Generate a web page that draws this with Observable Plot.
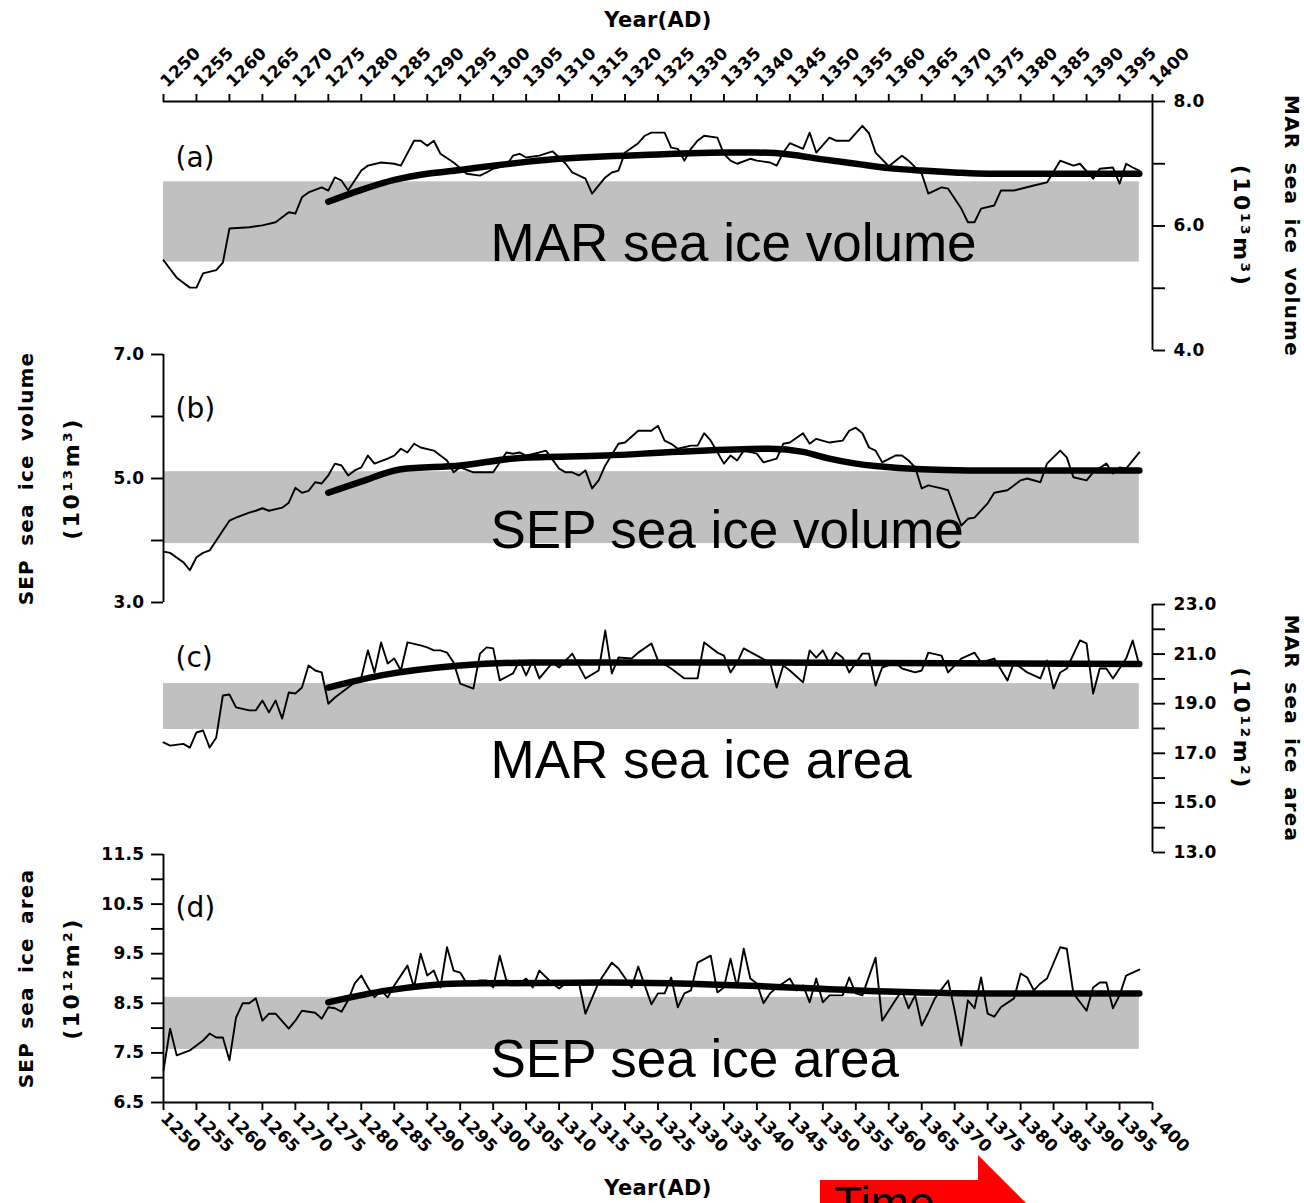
<!DOCTYPE html>
<html><head><meta charset="utf-8">
<script src="https://cdn.jsdelivr.net/npm/d3@7"></script>
<script src="https://cdn.jsdelivr.net/npm/@observablehq/plot@0.6"></script>
<style>
html,body{margin:0;padding:0;background:#fff;overflow:hidden;}
#wrap{position:relative;width:1304px;height:1203px;overflow:hidden;background:#fff;}
.panel{position:absolute;left:0;}
#arrow{position:absolute;left:820px;top:1155px;width:215px;height:110px;background:#ff0000;
  clip-path:polygon(0 25px,158px 25px,158px 0,213px 55px,158px 110px,158px 85px,0 85px);}
#arrowText{position:absolute;left:834px;top:1176px;font:46px 'Liberation Sans',Arial,sans-serif;color:#000;}
</style></head><body><div id="wrap"><div id="arrow"></div><div id="arrowText">Time</div></div>
<script>
// ---------------- data ----------------
const tickYears = d3.range(1250, 1401, 5);
const bandStart = 1250, bandEnd = 1398;

// (a) MAR sea ice volume (10^13 m^3)
const yearsA = [1250,1252,1254,1255,1256,1258,1259,1260,1263,1265,1267,1269,1270,1271,1272,1274,1275,1276,1277,1278,1280,1281,1283,1285,1286,1288,1289,1290,1291,1292,1294,1296,1298,1299,1300,1302,1303,1304,1305,1307,1309,1311,1312,1314,1315,1317,1318,1319,1320,1322,1323,1324,1326,1327,1328,1329,1330,1331,1332,1334,1335,1336,1337,1339,1340,1342,1343,1344,1345,1347,1348,1349,1351,1352,1354,1356,1357,1358,1360,1362,1363,1365,1366,1368,1369,1371,1372,1373,1374,1376,1377,1379,1382,1384,1386,1388,1389,1391,1392,1394,1395,1396,1397,1398];
const marVolume = [5.45,5.17,5.01,5.01,5.24,5.29,5.41,5.96,5.98,6.01,6.06,6.22,6.2,6.46,6.54,6.62,6.57,6.78,6.73,6.57,6.89,6.97,7.02,7.0,6.97,7.37,7.37,7.29,7.37,7.16,7.02,6.84,6.81,6.86,6.92,6.97,7.13,7.16,7.1,7.13,7.2,7.0,6.86,6.76,6.52,6.78,6.86,6.89,7.18,7.33,7.45,7.5,7.5,7.26,7.24,7.05,7.24,7.37,7.45,7.42,7.16,7.05,7.0,7.08,7.05,7.02,6.97,7.18,7.33,7.24,7.5,7.18,7.42,7.37,7.37,7.61,7.49,7.18,6.96,7.13,7.05,6.84,6.52,6.62,6.6,6.28,6.06,6.06,6.28,6.33,6.57,6.57,6.65,6.7,7.05,6.97,7.0,6.76,6.92,6.94,6.68,7.0,6.94,6.89];
const trendYearsA = [1275,1280,1285,1290,1295,1300,1305,1310,1315,1320,1325,1330,1335,1340,1345,1350,1355,1360,1365,1370,1375,1385,1398];
const marVolumeTrend = [6.39,6.58,6.74,6.84,6.9,6.97,7.03,7.08,7.11,7.13,7.15,7.17,7.18,7.18,7.15,7.07,7.0,6.93,6.89,6.86,6.84,6.84,6.84];
const bandA = [5.42, 6.71];

// (b) SEP sea ice volume (10^13 m^3)
const yearsB = [1250,1251,1253,1254,1255,1256,1257,1259,1260,1261,1263,1264,1265,1266,1268,1269,1270,1271,1272,1273,1274,1275,1276,1277,1278,1279,1280,1281,1282,1284,1285,1286,1287,1288,1289,1291,1293,1294,1295,1297,1299,1300,1302,1303,1304,1305,1307,1308,1310,1311,1312,1313,1314,1315,1316,1317,1319,1320,1322,1324,1325,1326,1327,1328,1330,1331,1332,1333,1335,1336,1337,1338,1340,1341,1343,1344,1345,1347,1348,1349,1351,1353,1354,1355,1356,1357,1358,1359,1361,1362,1363,1364,1365,1366,1368,1369,1371,1372,1373,1375,1376,1378,1380,1381,1383,1384,1386,1387,1388,1390,1391,1393,1394,1395,1396,1398];
const sepVolume = [3.82,3.8,3.65,3.52,3.73,3.8,3.84,4.16,4.32,4.37,4.45,4.48,4.52,4.48,4.53,4.61,4.85,4.77,4.8,4.94,4.92,5.05,5.24,5.21,5.05,5.13,5.18,5.37,5.24,5.32,5.37,5.48,5.42,5.56,5.5,5.45,5.29,5.1,5.18,5.1,5.1,5.1,5.42,5.4,5.42,5.37,5.42,5.45,5.16,5.1,5.1,5.05,5.13,4.84,4.97,5.21,5.56,5.58,5.77,5.77,5.85,5.61,5.56,5.48,5.53,5.53,5.73,5.61,5.24,5.37,5.29,5.45,5.4,5.26,5.32,5.56,5.58,5.73,5.56,5.64,5.58,5.61,5.77,5.82,5.73,5.5,5.45,5.26,5.37,5.37,5.29,5.18,4.84,4.89,4.84,4.81,4.24,4.35,4.37,4.6,4.77,4.81,4.97,5.0,4.94,5.24,5.45,5.34,5.02,4.97,5.1,5.24,5.08,5.18,5.16,5.42];
const trendYearsB = [1275,1280,1286,1295,1304,1317,1328,1342,1347,1351,1358,1372,1398];
const sepVolumeTrend = [4.77,4.95,5.15,5.21,5.33,5.37,5.43,5.48,5.43,5.32,5.2,5.13,5.13];
const bandB = [3.95, 5.11];

// (c) MAR sea ice area (10^12 m^2)
const yearsC = [1250,1251,1253,1254,1255,1256,1257,1258,1259,1260,1261,1263,1264,1265,1266,1267,1268,1269,1270,1271,1272,1273,1274,1275,1276,1277,1278,1280,1281,1282,1283,1284,1285,1286,1287,1289,1290,1291,1292,1293,1294,1295,1297,1298,1299,1300,1301,1303,1304,1305,1306,1307,1309,1310,1312,1314,1316,1317,1318,1319,1321,1322,1324,1325,1327,1328,1329,1331,1332,1334,1335,1336,1337,1338,1340,1342,1343,1344,1345,1347,1348,1349,1350,1351,1352,1353,1354,1356,1357,1358,1359,1361,1362,1364,1365,1366,1368,1369,1371,1373,1374,1376,1378,1379,1381,1383,1384,1385,1386,1387,1389,1390,1391,1392,1393,1394,1396,1397,1398];
const marArea = [17.44,17.31,17.38,17.23,17.84,17.92,17.23,17.64,19.33,19.37,18.85,18.73,18.73,19.13,18.65,19.13,18.4,19.45,19.41,19.65,20.54,20.34,20.26,19.0,19.25,19.45,19.65,20.06,21.15,20.26,21.47,20.62,20.82,20.34,21.47,21.35,21.27,21.15,21.15,21.06,20.66,19.81,19.61,21.02,21.27,21.23,19.94,20.22,20.74,20.14,20.74,20.02,20.66,20.46,21.02,20.02,20.34,21.95,20.22,20.86,20.82,21.06,21.43,20.74,20.42,20.22,20.02,20.02,21.47,21.06,20.94,20.26,20.66,21.23,20.94,20.66,19.65,20.54,20.34,19.86,21.15,20.86,21.15,20.62,21.06,20.86,20.26,21.02,21.02,19.73,20.46,20.66,20.42,20.26,20.34,21.06,20.94,20.26,20.82,21.06,20.66,20.82,19.94,20.66,20.26,20.02,20.74,19.61,20.26,20.42,21.55,21.43,19.41,20.42,20.42,20.02,20.82,21.55,20.54];
const trendYearsC = [1275,1283,1295,1306,1340,1398];
const marAreaTrend = [19.65,20.14,20.54,20.66,20.66,20.6];
const bandC = [17.96, 19.81];

// (d) SEP sea ice area (10^12 m^2)
const yearsD = [1250,1251,1252,1254,1256,1257,1258,1259,1260,1261,1262,1263,1264,1265,1266,1267,1269,1270,1271,1273,1274,1275,1276,1277,1278,1279,1280,1281,1282,1283,1284,1285,1287,1288,1289,1290,1291,1292,1293,1294,1295,1296,1298,1299,1300,1301,1302,1304,1305,1306,1307,1309,1310,1311,1312,1313,1314,1316,1318,1319,1321,1322,1324,1325,1326,1327,1328,1329,1330,1331,1333,1334,1335,1336,1337,1338,1339,1340,1341,1342,1343,1345,1346,1347,1348,1349,1350,1351,1353,1354,1355,1356,1358,1359,1361,1362,1363,1364,1365,1366,1367,1369,1370,1371,1372,1373,1374,1375,1376,1377,1379,1380,1381,1382,1383,1384,1386,1387,1388,1390,1391,1392,1393,1394,1395,1396,1398];
const sepArea = [7.15,7.99,7.45,7.55,7.75,7.89,7.81,7.81,7.35,8.21,8.5,8.5,8.6,8.15,8.29,8.29,7.99,8.15,8.35,8.31,8.19,8.42,8.4,8.33,8.56,8.9,9.06,8.82,8.62,8.76,8.62,8.86,9.26,8.82,9.5,9.06,9.16,8.82,9.63,9.16,9.12,8.9,8.96,8.96,8.82,9.46,8.96,8.9,9.0,8.82,9.16,8.9,8.8,8.9,8.9,8.92,8.29,8.92,9.32,9.2,8.82,9.24,8.48,8.7,8.7,9.02,8.42,8.7,8.76,9.32,9.46,8.72,8.82,9.4,8.82,9.6,9.0,8.9,8.5,8.7,8.82,9.0,8.76,8.86,8.52,9.0,8.52,8.66,8.66,9.02,8.7,8.66,9.42,8.15,8.56,8.76,8.4,8.66,8.05,8.31,8.6,8.96,8.35,7.65,8.56,8.4,9.02,8.29,8.23,8.42,8.6,9.1,9.02,8.76,8.9,9.0,9.63,9.6,8.7,8.35,8.82,8.92,8.92,8.4,8.66,9.06,9.18];
const trendYearsD = [1275,1284,1295,1317,1340,1357,1375,1398];
const sepAreaTrend = [8.52,8.76,8.9,8.92,8.85,8.75,8.7,8.7];
const bandD = [7.57, 8.62];

// ---------------- drawing ----------------
const TICK_FONT = "'DejaVu Sans', sans-serif";
const BIG_FONT = "'Liberation Sans', Arial, sans-serif";
const zip = (xs, ys) => xs.map((x, i) => ({year: x, value: ys[i]}));
const fmt1 = d => d.toFixed(1);

function panel(cfg) {
  const right = cfg.side === "right";
  const marks = [
    Plot.rect([{start: bandStart, end: bandEnd, lo: cfg.band[0], hi: cfg.band[1]}],
      {x1: "start", x2: "end", y1: "lo", y2: "hi", fill: "#c0c0c0"}),
    Plot.line(zip(cfg.years, cfg.values), {x: "year", y: "value", stroke: "#000", strokeWidth: 1.9}),
    Plot.line(zip(cfg.trendYears, cfg.trend), {x: "year", y: "value", stroke: "#000", strokeWidth: 6.5, curve: "monotone-x"}),
    Plot.ruleX([right ? 1400 : 1250], {stroke: "#000", strokeWidth: 1.9}),
    Plot.axisY({anchor: cfg.side, ticks: cfg.yTicks, tickSize: 12, tickPadding: right ? 9 : 7,
      tickFormat: d => cfg.yLabels.includes(d) ? fmt1(d) : "", fontSize: 17, fontWeight: "bold", strokeWidth: 1.9, label: null}),
    Plot.text([cfg.title], {frameAnchor: cfg.side, rotate: right ? 90 : -90, dx: right ? 139 : -137,
      textAnchor: "middle", lineAnchor: "middle", fontSize: 20, fontWeight: "bold", fill: "#000"}),
    Plot.text([cfg.unit], {frameAnchor: cfg.side, rotate: right ? 90 : -90, dx: right ? 89 : -92,
      textAnchor: "middle", lineAnchor: "middle", fontSize: 22, fontWeight: "bold", fill: "#000"}),
    Plot.text([cfg.tag], {frameAnchor: "top-left", dx: 12, dy: cfg.tagDy, textAnchor: "start",
      lineAnchor: "middle", fontSize: 28, fill: "#000"}),
    Plot.text([cfg.big], {frameAnchor: "top-left", dx: 327, dy: cfg.bigDy, textAnchor: "start",
      lineAnchor: "middle", fontSize: 53, fontFamily: BIG_FONT, fill: "#000"})
  ];
  if (cfg.topAxis) {
    marks.push(
      Plot.ruleY([cfg.yDomain[1]], {stroke: "#000", strokeWidth: 1.9}),
      Plot.axisX({anchor: "top", ticks: tickYears, tickSize: 8, tickRotate: -45, tickPadding: 9,
        textAnchor: "start", lineAnchor: "middle", tickFormat: d => String(d), fontSize: 17, fontWeight: "bold", strokeWidth: 1.9, label: null}),
      Plot.text(["Year(AD)"], {frameAnchor: "top", dy: -81, lineAnchor: "middle", fontSize: 21, fontWeight: "bold", fill: "#000"})
    );
  }
  if (cfg.bottomAxis) {
    marks.push(
      Plot.ruleY([cfg.yDomain[0]], {stroke: "#000", strokeWidth: 1.9}),
      Plot.axisX({anchor: "bottom", ticks: tickYears, tickSize: 8, tickRotate: 45, tickPadding: 5,
        textAnchor: "start", lineAnchor: "middle", tickFormat: d => String(d), fontSize: 17, fontWeight: "bold", strokeWidth: 1.9, label: null}),
      Plot.text(["Year(AD)"], {frameAnchor: "bottom", dy: 86, lineAnchor: "middle", fontSize: 21, fontWeight: "bold", fill: "#000"})
    );
  }
  const svg = Plot.plot({
    width: 1304, height: cfg.height,
    marginTop: cfg.marginTop, marginBottom: cfg.marginBottom, marginLeft: 163, marginRight: 152,
    x: {domain: [1250, 1400], axis: null},
    y: {domain: cfg.yDomain, axis: null},
    style: {background: "transparent", overflow: "visible", fontFamily: TICK_FONT, fontSize: "17px", color: "#000"},
    marks
  });
  d3.select(svg).selectAll("text").each(function () {
    const g = this.closest("g");
    const fam = (g && g.getAttribute("font-family")) || "";
    if (fam.includes("Liberation")) return;
    const t = this.textContent;
    if (t === cfg.title) { this.style.letterSpacing = "1.2px"; this.style.wordSpacing = "5px"; }
    else if (t === cfg.unit) this.style.letterSpacing = "2.5px";
    else if (t.startsWith("(")) return;
    else this.style.letterSpacing = "0.3px";
  });
  const div = document.createElement("div");
  div.className = "panel";
  div.style.top = cfg.top + "px";
  div.appendChild(svg);
  document.getElementById("wrap").insertBefore(div, document.getElementById("arrow"));
}

panel({top: 0, height: 360, marginTop: 101, marginBottom: 10, yDomain: [4, 8], side: "right",
  yTicks: [4, 5, 6, 7, 8], yLabels: [4, 6, 8], years: yearsA, values: marVolume,
  trendYears: trendYearsA, trend: marVolumeTrend, band: bandA,
  title: "MAR sea ice volume", unit: "(10¹³m³)", tag: "(a)", tagDy: 57, big: "MAR sea ice volume", bigDy: 143,
  topAxis: true});
panel({top: 350, height: 260, marginTop: 4, marginBottom: 8, yDomain: [3, 7], side: "left",
  yTicks: [3, 4, 5, 6, 7], yLabels: [3, 5, 7], years: yearsB, values: sepVolume,
  trendYears: trendYearsB, trend: sepVolumeTrend, band: bandB,
  title: "SEP sea ice volume", unit: "(10¹³m³)", tag: "(b)", tagDy: 55, big: "SEP sea ice volume", bigDy: 177});
panel({top: 600, height: 260, marginTop: 4, marginBottom: 8, yDomain: [13, 23], side: "right",
  yTicks: d3.range(13, 24, 1), yLabels: [13, 15, 17, 19, 21, 23], years: yearsC, values: marArea,
  trendYears: trendYearsC, trend: marAreaTrend, band: bandC,
  title: "MAR sea ice area", unit: "(10¹²m²)", tag: "(c)", tagDy: 54, big: "MAR sea ice area", bigDy: 157});
panel({top: 850, height: 353, marginTop: 4, marginBottom: 101, yDomain: [6.5, 11.5], side: "left",
  yTicks: d3.range(6.5, 11.51, 0.5), yLabels: [6.5, 7.5, 8.5, 9.5, 10.5, 11.5], years: yearsD, values: sepArea,
  trendYears: trendYearsD, trend: sepAreaTrend, band: bandD,
  title: "SEP sea ice area", unit: "(10¹²m²)", tag: "(d)", tagDy: 54, big: "SEP sea ice area", bigDy: 206,
  bottomAxis: true});
</script></body></html>
